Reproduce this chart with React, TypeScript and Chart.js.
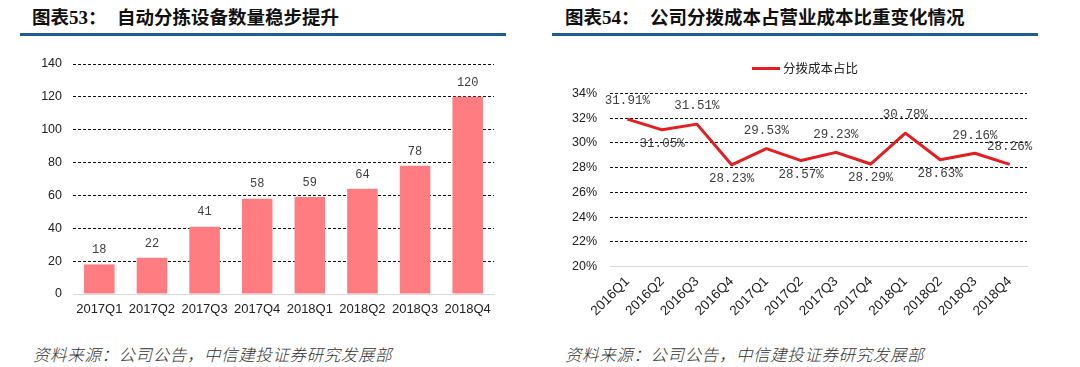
import React, { useEffect, useRef } from 'react';
import { Chart, registerables } from 'chart.js';

Chart.register(...registerables);

// ---------- data ----------
const barCategories = ['2017Q1', '2017Q2', '2017Q3', '2017Q4', '2018Q1', '2018Q2', '2018Q3', '2018Q4'];
const barValues = [18, 22, 41, 58, 59, 64, 78, 120];
const barAxisMin = 0;
const barAxisMax = 140;
const barAxisStep = 20;

const lineCategories = ['2016Q1', '2016Q2', '2016Q3', '2016Q4', '2017Q1', '2017Q2', '2017Q3', '2017Q4', '2018Q1', '2018Q2', '2018Q3', '2018Q4'];
const lineValues = [31.91, 31.05, 31.51, 28.23, 29.53, 28.57, 29.23, 28.29, 30.78, 28.63, 29.16, 28.26];
const lineLabelAbove = [true, false, true, false, true, false, true, false, true, false, true, true];
const lineAxisMin = 20;
const lineAxisMax = 34;
const lineAxisStep = 2;
const lineSeriesName = '分拨成本占比';

const leftTitleNo = '53';
const leftTitle = '自动分拣设备数量稳步提升';
const rightTitleNo = '54';
const rightTitle = '公司分拨成本占营业成本比重变化情况';
const sourceText = '资料来源：公司公告，中信建投证券研究发展部';

// ---------- styles ----------
const CJK = '"Noto Sans CJK SC", "Noto Sans", sans-serif';
const SANS = '"Liberation Sans", Arial, sans-serif';
const MONO = '"Liberation Mono", "DejaVu Sans Mono", monospace';
const BAR_COLOR = '#ff7c80';
const LINE_COLOR = '#e41e20';
const RULE_COLOR = '#1f5c8f';
const LABEL_COLOR = '#404040';

const barLabelPlugin = {
  id: 'barLabels',
  afterDatasetsDraw(chart: any) {
    const ctx = chart.ctx;
    const meta = chart.getDatasetMeta(0);
    ctx.save();
    ctx.font = `12px ${MONO}`;
    ctx.fillStyle = LABEL_COLOR;
    ctx.textAlign = 'center';
    ctx.textBaseline = 'middle';
    meta.data.forEach((el: any, i: number) => {
      ctx.fillText(String(barValues[i]), el.x, el.y - 14.5);
    });
    ctx.restore();
  },
};

const lineLabelPlugin = {
  id: 'lineLabels',
  afterDatasetsDraw(chart: any) {
    const ctx = chart.ctx;
    const meta = chart.getDatasetMeta(0);
    ctx.save();
    ctx.font = `12.5px ${MONO}`;
    ctx.fillStyle = LABEL_COLOR;
    ctx.textAlign = 'center';
    ctx.textBaseline = 'middle';
    meta.data.forEach((el: any, i: number) => {
      const dy = lineLabelAbove[i] ? -18 : 14;
      ctx.fillText(lineValues[i].toFixed(2) + '%', el.x, el.y + dy);
    });
    ctx.restore();
  },
};

function BarChart() {
  const ref = useRef<HTMLCanvasElement>(null);
  useEffect(() => {
    if (!ref.current) return;
    const chart = new Chart(ref.current, {
      type: 'bar',
      data: {
        labels: barCategories,
        datasets: [
          {
            data: barValues,
            backgroundColor: BAR_COLOR,
            barPercentage: 0.58,
            categoryPercentage: 1,
          },
        ],
      },
      options: {
        animation: false,
        responsive: false,
        devicePixelRatio: 1,
        layout: { padding: { left: 0, right: 16, top: 14, bottom: 0 } },
        plugins: { legend: { display: false }, tooltip: { enabled: false } },
        scales: {
          x: {
            grid: { display: false, drawTicks: false },
            border: { display: true, color: '#d9d9d9', width: 1 },
            ticks: {
              autoSkip: false,
              maxRotation: 0,
              minRotation: 0,
              padding: 8,
              color: '#222',
              font: { family: SANS, size: 13 },
            },
            afterFit: (s: any) => {
              s.height = 31;
            },
          },
          y: {
            min: barAxisMin,
            max: barAxisMax,
            ticks: {
              stepSize: barAxisStep,
              padding: 11,
              color: '#222',
              font: { family: SANS, size: 12.5 },
            },
            grid: {
              drawTicks: false,
              lineWidth: 1,
              color: (c: any) => (c.tick && c.tick.value === barAxisMin ? 'rgba(0,0,0,0)' : '#111'),
            },
            border: { display: false, dash: [3, 2] },
            afterFit: (s: any) => {
              s.width = 53;
              s.paddingTop = 0;
              s.paddingBottom = 0;
            },
          },
        },
      },
      plugins: [barLabelPlugin],
    } as any);
    return () => chart.destroy();
  }, []);
  return <canvas ref={ref} width={490} height={275} style={{ display: 'block' }} />;
}

function LineChart() {
  const ref = useRef<HTMLCanvasElement>(null);
  useEffect(() => {
    if (!ref.current) return;
    const chart = new Chart(ref.current, {
      type: 'line',
      data: {
        labels: lineCategories,
        datasets: [
          {
            label: lineSeriesName,
            data: lineValues,
            borderColor: LINE_COLOR,
            backgroundColor: LINE_COLOR,
            borderWidth: 3,
            pointRadius: 0,
            tension: 0,
            fill: false,
            borderJoinStyle: 'round',
          },
        ],
      },
      options: {
        animation: false,
        responsive: false,
        devicePixelRatio: 1,
        layout: { padding: { left: 0, right: 18, top: 43.3, bottom: 0 } },
        plugins: { legend: { display: false }, tooltip: { enabled: false } },
        scales: {
          x: {
            offset: true,
            grid: { display: false, drawTicks: false },
            border: { display: true, color: '#d9d9d9', width: 1 },
            ticks: {
              autoSkip: false,
              maxRotation: 45,
              minRotation: 45,
              padding: 7,
              color: '#222',
              font: { family: SANS, size: 13.5 },
            },
            afterFit: (s: any) => {
              s.height = 58.3;
            },
          },
          y: {
            min: lineAxisMin,
            max: lineAxisMax,
            ticks: {
              stepSize: lineAxisStep,
              padding: 13,
              color: '#222',
              font: { family: SANS, size: 12.5 },
              callback: (v: any) => `${v}%`,
            },
            grid: {
              drawTicks: false,
              lineWidth: 1,
              color: (c: any) => (c.tick && c.tick.value === lineAxisMin ? 'rgba(0,0,0,0)' : '#111'),
            },
            border: { display: false, dash: [3, 2] },
            afterFit: (s: any) => {
              s.width = 60;
            },
          },
        },
      },
      plugins: [lineLabelPlugin],
    } as any);
    return () => chart.destroy();
  }, []);
  return <canvas ref={ref} width={495} height={275} style={{ display: 'block' }} />;
}

function Title({ left, no, text, textLeft }: { left: number; no: string; text: string; textLeft: number }) {
  const base: React.CSSProperties = {
    position: 'absolute',
    top: 5,
    height: 23,
    lineHeight: '23px',
    fontSize: 18.5,
    fontWeight: 700,
    color: '#111',
    whiteSpace: 'nowrap',
    fontFamily: CJK,
  };
  return (
    <>
      <div style={{ ...base, left }}>
        图表<span style={{ fontFamily: '"Liberation Serif", serif', fontSize: 19 }}>{no}</span>：
      </div>
      <div style={{ ...base, left: textLeft }}>{text}</div>
    </>
  );
}

export default function App() {
  useEffect(() => {
    document.body.style.margin = '0';
  }, []);
  const sourceStyle: React.CSSProperties = {
    position: 'absolute',
    top: 344,
    height: 20,
    lineHeight: '20px',
    fontSize: 16.5,
    letterSpacing: 0.6,
    fontStyle: 'italic',
    fontWeight: 300,
    color: '#333',
    fontFamily: CJK,
    whiteSpace: 'nowrap',
  };
  return (
    <div
      style={{
        position: 'absolute',
        left: 0,
        top: 0,
        width: 1080,
        height: 367,
        background: '#fff',
        overflow: 'hidden',
      }}
    >
      <Title left={32} no={leftTitleNo} text={leftTitle} textLeft={117} />
      <Title left={565} no={rightTitleNo} text={rightTitle} textLeft={650} />
      <div style={{ position: 'absolute', left: 20, top: 32.5, width: 486, height: 3, background: RULE_COLOR }} />
      <div style={{ position: 'absolute', left: 552, top: 32.5, width: 486, height: 3, background: RULE_COLOR }} />

      <div style={{ position: 'absolute', left: 20, top: 50 }}>
        <BarChart />
      </div>
      <div style={{ position: 'absolute', left: 550, top: 50 }}>
        <LineChart />
      </div>

      {/* legend */}
      <div style={{ position: 'absolute', left: 752, top: 66.5, width: 28, height: 3, background: LINE_COLOR }} />
      <div
        style={{
          position: 'absolute',
          left: 783,
          top: 60,
          height: 16,
          lineHeight: '16px',
          fontSize: 12.5,
          color: '#222',
          fontFamily: CJK,
          whiteSpace: 'nowrap',
        }}
      >
        {lineSeriesName}
      </div>

      <div style={{ ...sourceStyle, left: 33 }}>{sourceText}</div>
      <div style={{ ...sourceStyle, left: 565 }}>{sourceText}</div>
    </div>
  );
}
